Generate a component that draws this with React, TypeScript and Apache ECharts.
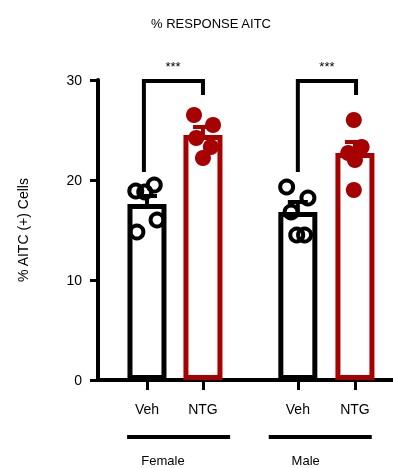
import React, { useEffect, useRef } from 'react';
import * as echarts from 'echarts';

const titleText = '% RESPONSE AITC';
const yAxisName = '% AITC (+) Cells';
const categories = ['Veh', 'NTG', 'Veh', 'NTG'];
const groups = ['Female', 'Male'];
const catX = [0.875, 1.875, 3.57, 4.59];
const xMax = 5.27;
const yTicks = [0, 10, 20, 30];

const means = [17.6, 24.5, 16.8, 22.7];
const errUpper = [18.4, 25.3, 17.8, 23.8];

const femaleVeh = [18.9, 19.5, 18.8, 14.8, 16.0];
const femaleNtg = [26.5, 25.5, 24.2, 23.3, 22.2];
const maleVeh = [19.3, 18.2, 16.8, 14.5, 14.5];
const maleNtg = [26.0, 23.3, 22.7, 22.0, 19.0];

const femaleVehJitter = [-0.2, 0.13, -0.04, -0.18, 0.18];
const femaleNtgJitter = [-0.16, 0.18, -0.12, 0.14, 0.0];
const maleVehJitter = [-0.2, 0.18, -0.12, -0.02, 0.12];
const maleNtgJitter = [-0.02, 0.12, -0.12, 0.0, -0.02];

// brackets: [leftX, rightX, topY, leftBottomY, rightBottomY, starsX, starsY]
const brackets = [
  [0.82, 1.875, 29.9, 20.8, 28.5, 1.34, 31.4],
  [3.57, 4.61, 29.9, 20.8, 28.5, 4.09, 31.4],
];
// group underline: [x1, x2, lineY, labelX, labelY]
const groupLines = [
  [0.52, 2.36, -5.7, 1.16, -8.05],
  [3.05, 4.89, -5.7, 3.71, -8.05],
];

const RED = '#a60000';
const BLACK = '#000000';
const catColor = [BLACK, RED, BLACK, RED];
const FONT = 'Liberation Sans, Arial, sans-serif';

export default function App() {
  const ref = useRef<HTMLDivElement>(null);
  useEffect(() => {
    document.body.style.margin = '0';
    const chart = echarts.init(ref.current!, null, { renderer: 'svg' });
    const pts = (vals: number[], jit: number[], ci: number) =>
      vals.map((v, i) => [catX[ci] + jit[i], v]);
    const openStyle = { color: 'rgba(0,0,0,0)', borderColor: BLACK, borderWidth: 4, opacity: 1 };
    const filledStyle = { color: RED, borderWidth: 0, opacity: 1 };
    chart.setOption({
      animation: false,
      title: {
        text: titleText,
        left: 206,
        top: 12,
        textAlign: 'center',
        textStyle: { fontSize: 13, fontWeight: 'normal', color: '#000', fontFamily: FONT },
      },
      grid: { left: 98, right: 0, top: 80, bottom: 88, containLabel: false },
      xAxis: {
        type: 'value',
        min: 0,
        max: xMax,
        splitLine: { show: false },
        axisLine: { show: true, lineStyle: { color: '#000', width: 4 } },
        axisTick: { show: true, customValues: catX, length: 10, lineStyle: { color: '#000', width: 3 } },
        axisLabel: {
          show: true,
          customValues: catX,
          margin: 22,
          fontSize: 14,
          color: '#000',
          fontFamily: FONT,
          formatter: (v: number) => {
            const i = catX.findIndex((c) => Math.abs(c - v) < 1e-6);
            return i >= 0 ? categories[i] : '';
          },
        },
      },
      yAxis: {
        type: 'value',
        min: yTicks[0],
        max: yTicks[yTicks.length - 1],
        interval: 10,
        name: yAxisName,
        nameLocation: 'middle',
        nameGap: 68,
        nameTextStyle: { fontSize: 14, color: '#000', fontFamily: FONT },
        splitLine: { show: false },
        axisLine: { show: true, lineStyle: { color: '#000', width: 4 } },
        axisTick: { show: true, length: 8, lineStyle: { color: '#000', width: 3 } },
        axisLabel: { fontSize: 14, color: '#000', margin: 16, fontFamily: FONT },
      },
      series: [
        {
          type: 'bar',
          barWidth: 39,
          z: 2,
          data: means.map((m, i) => ({
            value: [catX[i], m],
            itemStyle: { color: 'rgba(0,0,0,0)', borderColor: catColor[i], borderWidth: 5 },
          })),
        },
        {
          type: 'custom',
          z: 3,
          clip: false,
          data: means.map((m, i) => [catX[i], m, errUpper[i], i]),
          renderItem: (params: any, api: any) => {
            const x = api.value(0);
            const p0 = api.coord([x, api.value(1)]);
            const p1 = api.coord([x, api.value(2)]);
            const c = catColor[api.value(3)];
            return {
              type: 'group',
              children: [
                { type: 'line', shape: { x1: p0[0], y1: p0[1], x2: p1[0], y2: p1[1] }, style: { stroke: c, lineWidth: 4 } },
                { type: 'line', shape: { x1: p1[0] - 10, y1: p1[1], x2: p1[0] + 10, y2: p1[1] }, style: { stroke: c, lineWidth: 4 } },
              ],
            };
          },
        },
        { type: 'scatter', z: 4, symbol: 'circle', symbolSize: 13, itemStyle: openStyle, data: pts(femaleVeh, femaleVehJitter, 0) },
        { type: 'scatter', z: 4, symbol: 'circle', symbolSize: 16, itemStyle: filledStyle, data: pts(femaleNtg, femaleNtgJitter, 1) },
        { type: 'scatter', z: 4, symbol: 'circle', symbolSize: 13, itemStyle: openStyle, data: pts(maleVeh, maleVehJitter, 2) },
        { type: 'scatter', z: 4, symbol: 'circle', symbolSize: 16, itemStyle: filledStyle, data: pts(maleNtg, maleNtgJitter, 3) },
        {
          type: 'custom',
          z: 5,
          clip: false,
          data: brackets,
          renderItem: (params: any, api: any) => {
            const a = api.coord([api.value(0), api.value(3)]);
            const b = api.coord([api.value(0), api.value(2)]);
            const c = api.coord([api.value(1), api.value(2)]);
            const d = api.coord([api.value(1), api.value(4)]);
            const s = api.coord([api.value(5), api.value(6)]);
            return {
              type: 'group',
              children: [
                { type: 'polyline', shape: { points: [a, b, c, d] }, style: { stroke: '#000', lineWidth: 4, fill: 'none' } },
                {
                  type: 'text',
                  x: s[0],
                  y: s[1],
                  style: { text: '***', fontSize: 13, fill: '#000', align: 'center', verticalAlign: 'middle', fontFamily: FONT },
                },
              ],
            };
          },
        },
        {
          type: 'custom',
          z: 5,
          clip: false,
          data: groupLines,
          renderItem: (params: any, api: any) => {
            const a = api.coord([api.value(0), api.value(2)]);
            const b = api.coord([api.value(1), api.value(2)]);
            const t = api.coord([api.value(3), api.value(4)]);
            return {
              type: 'group',
              children: [
                { type: 'line', shape: { x1: a[0], y1: a[1], x2: b[0], y2: b[1] }, style: { stroke: '#000', lineWidth: 4 } },
                {
                  type: 'text',
                  x: t[0],
                  y: t[1],
                  style: { text: groups[params.dataIndex], fontSize: 13, fill: '#000', align: 'center', verticalAlign: 'middle', fontFamily: FONT },
                },
              ],
            };
          },
        },
      ],
    });
    return () => chart.dispose();
  }, []);
  return <div ref={ref} style={{ position: 'fixed', left: 0, top: 0, width: 393, height: 468 }} />;
}
